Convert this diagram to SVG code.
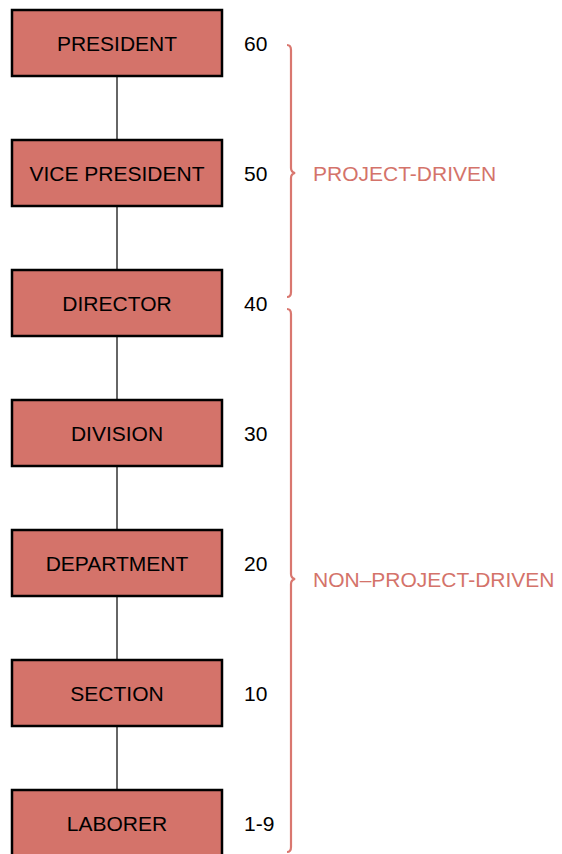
<svg xmlns="http://www.w3.org/2000/svg" width="562" height="854" viewBox="0 0 562 854">
<style>
.box{fill:#D4736A;stroke:#000;stroke-width:2.5}
.bt{font-family:"Liberation Sans",Arial,sans-serif;font-size:21px;fill:#000;text-anchor:middle;dominant-baseline:central}
.num{font-family:"Liberation Sans",Arial,sans-serif;font-size:21px;fill:#000;dominant-baseline:central}
.lbl{font-family:"Liberation Sans",Arial,sans-serif;font-size:21px;fill:#D4736A;dominant-baseline:central}
.conn{stroke:#333;stroke-width:1.5;fill:none}
.brace{stroke:#D9776F;stroke-width:2.2;fill:none}
</style>
<rect width="562" height="854" fill="#fff"/>
<g id="connectors">
<line class="conn" x1="117" y1="76" x2="117" y2="140"/>
<line class="conn" x1="117" y1="206" x2="117" y2="270"/>
<line class="conn" x1="117" y1="336" x2="117" y2="400"/>
<line class="conn" x1="117" y1="466" x2="117" y2="530"/>
<line class="conn" x1="117" y1="596" x2="117" y2="660"/>
<line class="conn" x1="117" y1="726" x2="117" y2="790"/>
</g>
<g id="president"><rect class="box" x="12" y="10" width="210" height="66"/><text class="bt" x="117" y="43">PRESIDENT</text><text class="num" x="244" y="43">60</text></g>
<g id="vice-president"><rect class="box" x="12" y="140" width="210" height="66"/><text class="bt" x="117" y="173">VICE PRESIDENT</text><text class="num" x="244" y="173">50</text></g>
<g id="director"><rect class="box" x="12" y="270" width="210" height="66"/><text class="bt" x="117" y="303">DIRECTOR</text><text class="num" x="244" y="303">40</text></g>
<g id="division"><rect class="box" x="12" y="400" width="210" height="66"/><text class="bt" x="117" y="433">DIVISION</text><text class="num" x="244" y="433">30</text></g>
<g id="department"><rect class="box" x="12" y="530" width="210" height="66"/><text class="bt" x="117" y="563">DEPARTMENT</text><text class="num" x="244" y="563">20</text></g>
<g id="section"><rect class="box" x="12" y="660" width="210" height="66"/><text class="bt" x="117" y="693">SECTION</text><text class="num" x="244" y="693">10</text></g>
<g id="laborer"><rect class="box" x="12" y="790" width="210" height="66"/><text class="bt" x="117" y="823">LABORER</text><text class="num" x="244" y="823">1-9</text></g>
<g id="project-driven">
<path class="brace" d="M287,45 Q291,45 291,50 L291,168 Q291,172 295,173 Q291,174 291,178 L291,292 Q291,297 287,297"/>
<text class="lbl" x="313" y="173">PROJECT-DRIVEN</text>
</g>
<g id="non-project-driven">
<path class="brace" d="M287,309 Q291,309 291,314 L291,574 Q291,578 295,579 Q291,580 291,584 L291,847 Q291,852 287,852"/>
<text class="lbl" x="313" y="579">NON–PROJECT-DRIVEN</text>
</g>
</svg>
